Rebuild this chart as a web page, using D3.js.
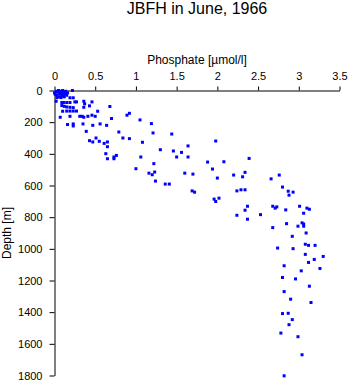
<!DOCTYPE html>
<html><head><meta charset="utf-8">
<script src="https://cdn.jsdelivr.net/npm/d3@7"></script>
<style>body{margin:0;background:#fff}svg{display:block}text{font-family:"Liberation Sans",Arial,sans-serif}</style>
</head><body>
<svg id="c" width="350" height="384"></svg>
<script>
const title = "JBFH in June, 1966";
const xLabel = "Phosphate [\u00b5mol/l]";
const yLabel = "Depth [m]";
const xTicks = [0, 0.5, 1, 1.5, 2, 2.5, 3, 3.5];
const xTickLabels = ["0", "0.5", "1", "1.5", "2", "2.5", "3", "3.5"];
const yTicks = [0, 200, 400, 600, 800, 1000, 1200, 1400, 1600, 1800];
const yTickLabels = ["0", "200", "400", "600", "800", "1000", "1200", "1400", "1600", "1800"];
const phosphate = [0.00,0.01,0.02,0.03,0.04,0.05,0.05,0.06,0.07,0.08,0.09,0.10,0.10,0.11,0.12,0.13,0.14,0.15,0.16,0.03,0.08,0.12,0.22,0.19,0.23,
0.02,0.09,0.11,0.15,0.19,0.25,0.27,0.36,0.37,0.46,
0.09,0.12,0.15,0.19,0.23,0.36,0.43,0.68,
0.10,0.15,0.19,0.23,0.27,0.53,
0.07,0.19,0.31,0.34,0.36,0.41,0.46,0.50,0.70,0.92,0.89,1.05,
0.16,0.23,0.23,0.35,0.47,0.56,0.64,
0.39,0.79,0.84,0.92,0.51,0.43,0.47,0.55,0.61,0.65,0.65,
0.63,0.65,0.73,0.76,0.73,1.08,1.06,1.00,1.22,1.16,1.20,1.23,1.24,1.30,
1.19,1.21,1.44,1.98,1.64,1.46,1.56,1.50,1.64,1.88,2.08,2.39,1.60,1.70,1.94,2.00,2.20,2.31,2.34,1.36,1.41,1.69,1.72,2.24,2.29,2.34,1.96,2.02,1.98,
2.37,2.34,2.24,2.37,2.53,
2.76,2.66,2.80,2.87,2.93,2.88,2.68,2.73,2.71,3.01,3.10,3.13,2.84,3.06,3.04,3.06,3.06,2.85,2.99,2.68,3.09,2.92,3.08,3.12,3.20,2.74,2.93,3.08,3.30,3.19,
3.12,2.82,3.26,3.03,2.80,2.96,3.13,2.82,2.90,3.15,2.80,2.87,2.92,2.88,2.78,2.99,3.04,2.82];
const depth = [15,25,5,30,10,0,40,20,5,30,15,0,35,25,10,20,5,30,15,45,45,40,0,46,46,
68,76,76,76,76,72,72,68,84,72,
95,100,104,106,108,106,97,101,
131,130,130,130,130,131,
169,163,163,163,169,163,156,163,177,144,156,186,
215,211,224,211,220,211,220,
258,262,300,304,300,317,325,321,334,325,355,
399,431,431,410,420,327,420,494,462,522,532,515,572,374,
209,268,275,319,350,382,391,420,420,452,450,429,522,528,496,553,534,545,517,591,591,634,642,634,627,627,686,680,701,
731,756,788,813,784,
534,558,610,636,642,661,731,735,743,731,743,750,754,775,836,843,857,841,857,866,900,921,971,978,978,995,999,1035,1048,1067,
1086,1107,1124,1139,1181,1190,1236,1270,1318,1339,1409,1407,1447,1479,1532,1555,1669,1802];

const svg = d3.select("#c");
const x = d3.scaleLinear().domain([0, 3.5]).range([54.5, 339.5]);
const y = d3.scaleLinear().domain([0, 1800]).range([90.5, 375.5]);

svg.append("text").attr("x", 197).attr("y", 14).attr("text-anchor", "middle")
  .attr("font-size", 16).text(title);
svg.append("text").attr("x", 197).attr("y", 64).attr("text-anchor", "middle")
  .attr("font-size", 12).text(xLabel);
svg.append("text").attr("transform", "translate(10.5,233) rotate(-90)").attr("text-anchor", "middle")
  .attr("font-size", 12).text(yLabel);

const xAxis = svg.append("g").attr("transform", "translate(0,90.5)")
  .call(d3.axisTop(x).tickValues(xTicks).tickFormat((d, i) => xTickLabels[i]).tickSize(4).tickSizeOuter(0).tickPadding(7));
const yAxis = svg.append("g").attr("transform", "translate(54.5,0)")
  .call(d3.axisLeft(y).tickValues(yTicks).tickFormat((d, i) => yTickLabels[i]).tickSize(5).tickSizeOuter(0).tickPadding(7));
[xAxis, yAxis].forEach(g => {
  g.selectAll("path,line").attr("stroke", "#000").attr("stroke-width", 1);
  g.selectAll("text").attr("font-size", 11).attr("fill", "#000")
    .attr("font-family", "\"Liberation Sans\",Arial,sans-serif");
});

svg.append("g").selectAll("rect").data(phosphate.map((p, i) => [p, depth[i]])).join("rect")
  .attr("x", d => x(d[0]) - 1.5).attr("y", d => y(d[1]) - 1.5)
  .attr("width", 3).attr("height", 3).attr("fill", "#0000ff");
</script>
</body></html>
